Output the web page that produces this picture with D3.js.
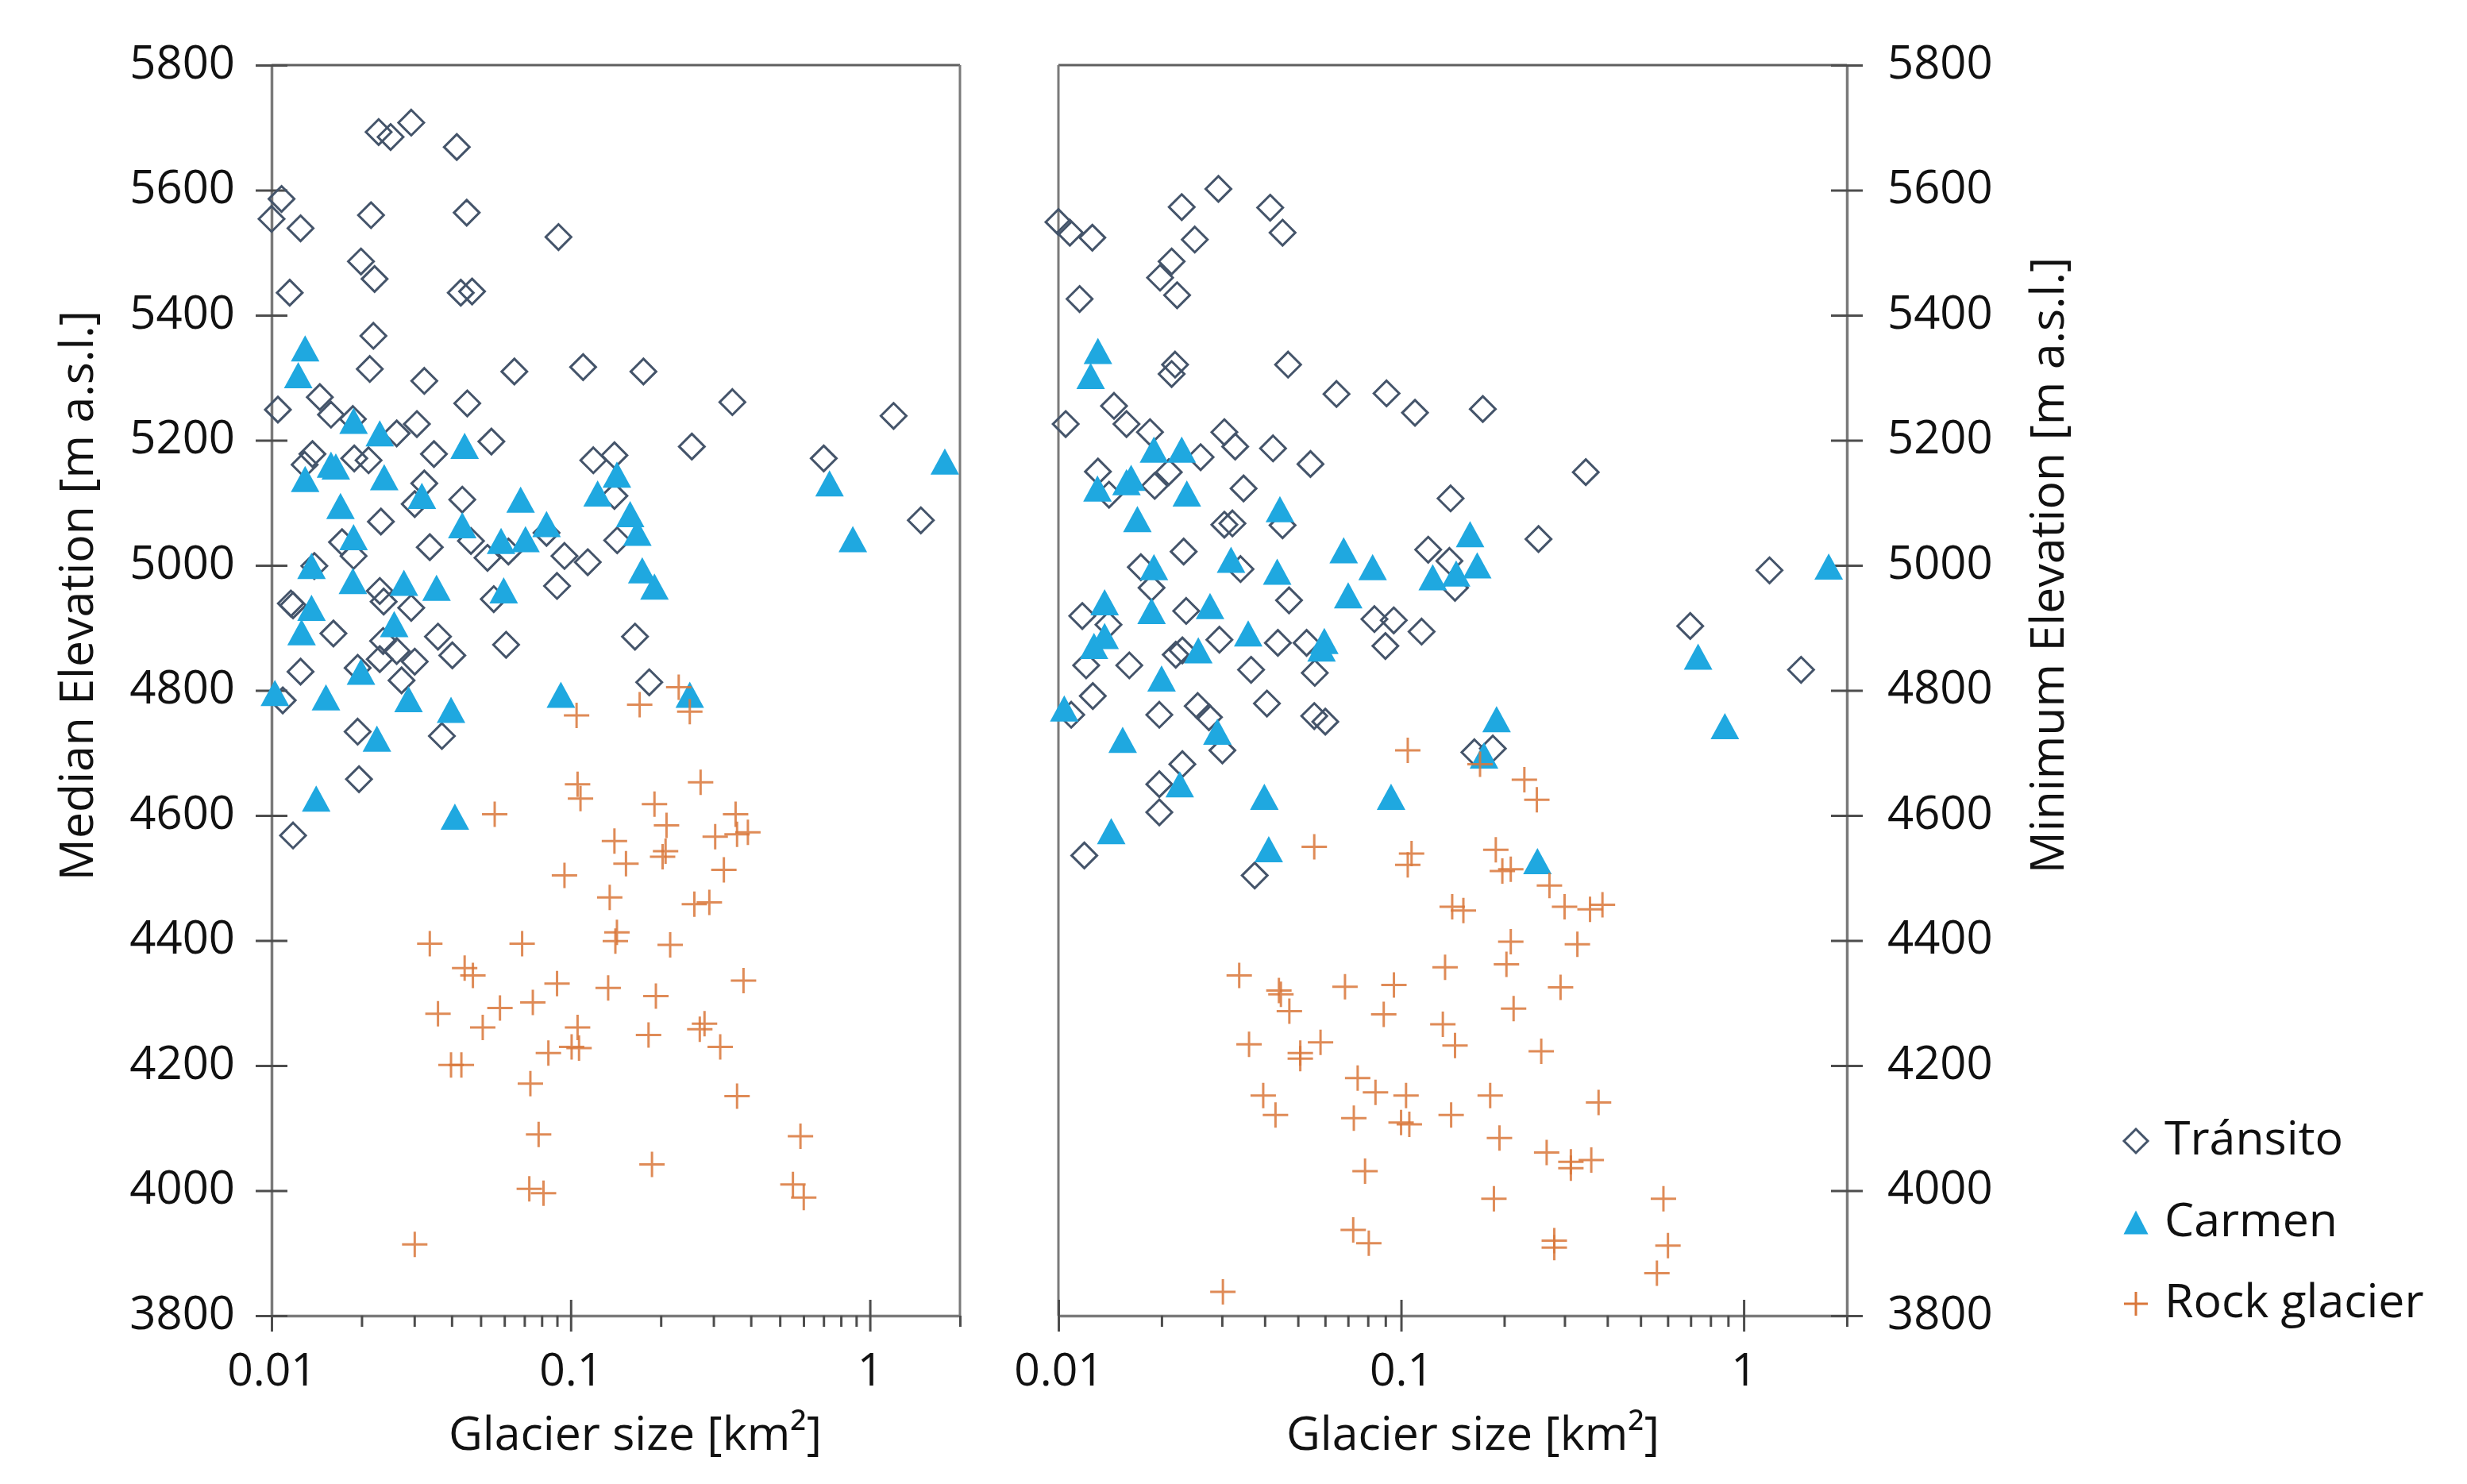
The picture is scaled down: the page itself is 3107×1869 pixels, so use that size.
<!DOCTYPE html>
<html>
<head>
<meta charset="utf-8">
<script src="https://cdn.jsdelivr.net/npm/d3@7"></script>
<style>
  body { margin: 0; background: #fff; }
  text { font-family: "Open Sans", "DejaVu Sans", sans-serif; fill: #111; }
</style>
</head>
<body>
<div id="chart"></div>
<script>
// tick values and labels
const yTicks = [3800, 4000, 4200, 4400, 4600, 4800, 5000, 5200, 5400, 5600, 5800];
const xTicks = [0.01, 0.1, 1];
const xTickLabels = ["0.01", "0.1", "1"];
const xMinorTicks = [0.02, 0.03, 0.04, 0.05, 0.06, 0.07, 0.08, 0.09, 0.2, 0.3, 0.4, 0.5, 0.6, 0.7, 0.8, 0.9, 2];
const seriesNames = ["Tránsito", "Carmen", "Rock glacier"];

// left panel: glacier size [km2] vs median elevation [m a.s.l.]
const transitoMedian = [
  [0.0228,5693],[0.025,5685],[0.0293,5708],[0.0416,5669],[0.0108,5586],[0.0100,5554],[0.0125,5539],[0.0215,5560],
  [0.0449,5564],[0.091,5525],[0.0199,5486],[0.0221,5458],[0.0115,5436],[0.0429,5436],[0.0468,5438],[0.0219,5367],
  [0.0213,5314],[0.0324,5295],[0.0648,5310],[0.110,5317],[0.175,5310],[0.0105,5249],[0.0145,5269],[0.0158,5241],
  [0.0451,5259],[0.347,5261],[1.20,5239],[0.0187,5234],[0.0262,5211],[0.0306,5226],[0.0543,5198],[0.254,5190],
  [0.0137,5178],[0.0129,5161],[0.0189,5171],[0.0211,5168],[0.0349,5178],[0.119,5168],[0.140,5176],[0.701,5171],
  [0.0324,5131],[0.0301,5098],[0.0434,5105],[0.140,5111],[1.48,5072],[0.0232,5070],[0.0172,5037],[0.0188,5015],
  [0.0338,5029],[0.0464,5039],[0.0527,5012],[0.0619,5022],[0.083,5052],[0.0953,5015],[0.114,5005],[0.143,5040],
  [0.090,4967],[0.0139,4999],[0.0553,4946],[0.0116,4939],[0.0118,4936],[0.0230,4959],[0.0237,4942],[0.0293,4932],
  [0.0161,4891],[0.036,4886],[0.0236,4879],[0.0608,4873],[0.164,4886],[0.0125,4830],[0.0194,4836],[0.0230,4850],
  [0.0262,4863],[0.0301,4846],[0.0402,4856],[0.0272,4816],[0.183,4813],[0.0109,4784],[0.0194,4734],[0.0371,4727],
  [0.0196,4658],[0.0118,4568]
];
const carmenMedian = [
  [0.01295,5347],[0.01228,5304],[0.0188,5231],[0.023,5211],[0.0442,5191],[0.0158,5161],[0.0164,5158],[0.01295,5138],
  [0.0238,5141],[0.017,5095],[0.0318,5111],[0.068,5105],[0.123,5115],[0.1427,5145],[1.78,5166],[0.733,5131],
  [0.877,5042],[0.158,5082],[0.167,5052],[0.0434,5064],[0.0585,5039],[0.0706,5042],[0.083,5066],[0.0188,5045],
  [0.0136,4999],[0.0187,4975],[0.0277,4972],[0.0356,4964],[0.0597,4960],[0.1734,4992],[0.1905,4966],[0.0136,4932],
  [0.0126,4893],[0.0257,4906],[0.0199,4830],[0.01026,4796],[0.0152,4789],[0.0287,4786],[0.0398,4769],[0.0927,4793],
  [0.250,4793],[0.0225,4723],[0.0141,4627],[0.041,4598]
];
const rockMedian = [
  [0.2296,4805],[0.1046,4760],[0.170,4777],[0.250,4766],[0.1054,4650],[0.1078,4627],[0.2717,4653],[0.0557,4602],
  [0.1905,4618],[0.3557,4602],[0.209,4584],[0.304,4566],[0.3597,4570],[0.391,4573],[0.140,4559],[0.2075,4543],
  [0.2028,4534],[0.153,4523],[0.325,4513],[0.0953,4504],[0.135,4469],[0.259,4458],[0.2906,4461],[0.0338,4395],
  [0.0688,4395],[0.1427,4413],[0.141,4399],[0.215,4393],[0.0442,4356],[0.0471,4344],[0.090,4331],[0.1334,4324],
  [0.378,4336],[0.0747,4301],[0.1926,4311],[0.058,4292],[0.036,4283],[0.0508,4261],[0.1054,4261],[0.28,4267],
  [0.27,4258],[0.182,4249],[0.1007,4230],[0.1066,4228],[0.316,4230],[0.0842,4220],[0.0398,4201],[0.0431,4201],
  [0.0733,4171],[0.3597,4151],[0.0781,4090],[0.586,4087],[0.1869,4042],[0.0727,4003],[0.0811,3996],[0.553,4010],
  [0.601,3989],[0.0301,3914]
];

// right panel: glacier size [km2] vs minimum elevation [m a.s.l.]
const transitoMin = [
  [0.0100,5549],[0.0108,5532],[0.01256,5524],[0.0229,5573],[0.0293,5602],[0.0415,5572],[0.0451,5532],[0.025,5521],
  [0.0214,5486],[0.0198,5460],[0.0222,5432],[0.01153,5426],[0.0219,5321],[0.0214,5306],[0.0468,5321],[0.0648,5274],
  [0.0907,5275],[0.1098,5244],[0.1732,5250],[0.0105,5226],[0.01453,5255],[0.0158,5226],[0.0185,5213],[0.0305,5213],
  [0.0328,5190],[0.0423,5187],[0.0544,5162],[0.346,5149],[0.01304,5150],[0.026,5173],[0.021,5149],[0.0191,5127],
  [0.01405,5113],[0.0347,5123],[0.1395,5107],[0.0305,5065],[0.0322,5067],[0.0451,5064],[0.2518,5042],[0.120,5025],
  [0.1384,5007],[0.0232,5022],[0.0174,4997],[0.034,4994],[1.189,4992],[0.0187,4964],[0.1437,4964],[0.01174,4919],
  [0.014,4905],[0.0236,4927],[0.0471,4944],[0.0836,4914],[0.0952,4912],[0.1148,4894],[0.698,4903],[0.0295,4881],
  [0.0437,4876],[0.053,4876],[0.090,4871],[0.023,4864],[0.022,4857],[0.01205,4840],[0.0161,4840],[0.0365,4833],
  [0.056,4828],[1.47,4833],[0.0126,4791],[0.0109,4761],[0.0197,4761],[0.0255,4775],[0.0275,4757],[0.0406,4779],
  [0.0558,4759],[0.0601,4750],[0.0301,4704],[0.023,4682],[0.0197,4650],[0.0197,4605],[0.0119,4536],[0.0374,4504],
  [0.1637,4701],[0.1853,4707]
];
const carmenMin = [
  [0.01304,5343],[0.01242,5303],[0.019,5185],[0.0229,5185],[0.0163,5140],[0.0158,5133],[0.013,5123],[0.0237,5115],
  [0.017,5074],[0.0443,5090],[0.019,4997],[0.0319,5009],[0.0435,4990],[0.068,5024],[0.0826,4997],[0.159,5050],
  [0.1668,5000],[0.1237,4981],[0.1448,4987],[1.77,4998],[0.0701,4952],[0.01364,4941],[0.0187,4927],[0.0277,4935],
  [0.01364,4887],[0.0127,4871],[0.0256,4864],[0.0358,4891],[0.0597,4879],[0.0586,4867],[0.736,4854],[0.02,4819],
  [0.0104,4771],[0.0154,4721],[0.0291,4734],[0.19,4754],[0.881,4743],[0.0226,4650],[0.0399,4630],[0.0935,4630],
  [0.1746,4696],[0.01426,4575],[0.0411,4546],[0.25,4527]
];
const rockMin = [
  [0.1046,4704],[0.170,4682],[0.229,4657],[0.249,4625],[0.0558,4550],[0.1073,4539],[0.1046,4521],[0.189,4545],
  [0.209,4514],[0.1975,4511],[0.271,4488],[0.141,4454],[0.152,4448],[0.300,4454],[0.356,4450],[0.387,4457],
  [0.209,4398],[0.327,4394],[0.203,4362],[0.1344,4357],[0.0337,4344],[0.0953,4329],[0.0686,4326],[0.292,4325],
  [0.044,4320],[0.0446,4314],[0.0472,4287],[0.089,4282],[0.213,4291],[0.1324,4266],[0.036,4234],[0.0582,4237],
  [0.0508,4220],[0.0508,4211],[0.1437,4232],[0.2565,4223],[0.0747,4180],[0.0842,4157],[0.0396,4152],[0.1034,4152],
  [0.182,4152],[0.377,4141],[0.043,4121],[0.0728,4116],[0.100,4109],[0.1057,4106],[0.140,4121],[0.1937,4084],
  [0.266,4061],[0.313,4046],[0.313,4036],[0.359,4049],[0.0785,4031],[0.1866,3987],[0.583,3987],[0.0725,3937],
  [0.0805,3916],[0.28,3920],[0.28,3909],[0.601,3912],[0.558,3868],[0.0302,3838]
];

const W = 3107, H = 1869;
const svg = d3.select("#chart").append("svg")
  .attr("width", W).attr("height", H)
  .style("background", "#fff");

const plotTop = 82, plotBottom = 1657;
const y = d3.scaleLinear().domain([3800, 5800]).range([plotBottom, plotTop]);

const axisColor = "#7a7a7a";
const tickColor = "#4d4d4d";
const colors = { transito: "#44546a", carmen: "#1fa8e0", rock: "#d9773a" };

const diamond = "M0,-16L16,0L0,16L-16,0Z";
const triangle = "M0,-16.5L18,16.5L-18,16.5Z";
const cross = "M-16,0H16M0,-16V16";

function drawPanel(p) {
  const x = d3.scaleLog().domain([0.01, 2]).range([p.x0, p.x1]);
  const g = svg.append("g");

  // frame lines
  g.append("line").attr("x1", p.x0).attr("x2", p.x1).attr("y1", plotTop).attr("y2", plotTop)
    .attr("stroke", "#5f5f5f").attr("stroke-width", 3);
  const fx = p.side === "left" ? p.x1 : p.x0;
  g.append("line").attr("x1", fx).attr("x2", fx).attr("y1", plotTop).attr("y2", plotBottom)
    .attr("stroke", axisColor).attr("stroke-width", 3);

  // x axis, major ticks cross the line
  const xa = g.append("g").attr("transform", `translate(0,${plotBottom})`)
    .call(d3.axisBottom(x).tickValues(xTicks).tickFormat((d, i) => xTickLabels[i])
      .tickSize(20).tickSizeOuter(0));
  xa.select(".domain").attr("stroke", axisColor).attr("stroke-width", 3.5);
  xa.selectAll(".tick line").attr("y1", -20).attr("stroke", tickColor).attr("stroke-width", 3);
  xa.selectAll(".tick text").attr("y", 88).attr("dy", null)
    .style("font-size", "57px").attr("fill", "#111");

  // minor ticks
  const xm = g.append("g").attr("transform", `translate(0,${plotBottom})`)
    .call(d3.axisBottom(x).tickValues(xMinorTicks).tickFormat("").tickSize(14).tickSizeOuter(0));
  xm.select(".domain").remove();
  xm.selectAll(".tick line").attr("stroke", tickColor).attr("stroke-width", 3);

  // y axis
  const yAxis = p.side === "left" ? d3.axisLeft(y) : d3.axisRight(y);
  const ya = g.append("g").attr("transform", `translate(${p.side === "left" ? p.x0 : p.x1},0)`)
    .call(yAxis.tickValues(yTicks).tickFormat(d3.format("d")).tickSize(20).tickSizeOuter(0));
  ya.select(".domain").attr("stroke", axisColor).attr("stroke-width", 3.5);
  ya.selectAll(".tick line").attr("x1", p.side === "left" ? 20 : -20)
    .attr("stroke", tickColor).attr("stroke-width", 3);
  ya.selectAll(".tick text").attr("x", p.side === "left" ? -46 : 51)
    .attr("y", 16).attr("dy", null)
    .style("font-size", "58px").attr("fill", "#111");
  g.selectAll(".domain").attr("fill", "none");

  // series
  g.append("g").selectAll("path").data(p.transito).join("path")
    .attr("d", diamond)
    .attr("transform", d => `translate(${x(d[0])},${y(d[1])})`)
    .attr("fill", "none").attr("stroke", colors.transito).attr("stroke-width", 3);
  g.append("g").selectAll("path").data(p.carmen).join("path")
    .attr("d", triangle)
    .attr("transform", d => `translate(${x(d[0])},${y(d[1])})`)
    .attr("fill", colors.carmen);
  g.append("g").selectAll("path").data(p.rock).join("path")
    .attr("d", cross)
    .attr("transform", d => `translate(${x(d[0])},${y(d[1])})`)
    .attr("fill", "none").attr("stroke", colors.rock).attr("stroke-width", 3)
    .attr("stroke-opacity", 0.85);

  // x title
  g.append("text").attr("x", p.xTitleX).attr("y", 1826)
    .attr("text-anchor", "middle").style("font-size", "59px")
    .text("Glacier size [km²]");

  // y title
  g.append("text")
    .attr("transform", `translate(${p.yTitleX},${p.yTitleY}) rotate(-90)`)
    .attr("text-anchor", "middle").style("font-size", "59px")
    .text(p.yTitle);
}

drawPanel({
  x0: 342, x1: 1209, side: "left",
  transito: transitoMedian, carmen: carmenMedian, rock: rockMedian,
  xTitleX: 800, yTitleX: 117, yTitleY: 750, yTitle: "Median Elevation [m a.s.l.]"
});
drawPanel({
  x0: 1333, x1: 2326, side: "right",
  transito: transitoMin, carmen: carmenMin, rock: rockMin,
  xTitleX: 1855, yTitleX: 2599, yTitleY: 712, yTitle: "Minimum Elevation [m a.s.l.]"
});

// legend
const legend = svg.append("g").attr("transform", "translate(2690,1437)");
const legendShapes = [
  { d: "M0,-15L15,0L0,15L-15,0Z", fill: "none", stroke: colors.transito },
  { d: "M0,-15L15.5,15L-15.5,15Z", fill: colors.carmen, stroke: "none" },
  { d: "M-15,0H15M0,-15V15", fill: "none", stroke: colors.rock }
];
const items = legend.selectAll("g").data(seriesNames).join("g")
  .attr("transform", (d, i) => `translate(0,${i * 102.5})`);
items.append("path")
  .attr("d", (d, i) => legendShapes[i].d)
  .attr("fill", (d, i) => legendShapes[i].fill)
  .attr("stroke", (d, i) => legendShapes[i].stroke)
  .attr("stroke-width", 3);
items.append("text").attr("x", 36).attr("y", 17)
  .style("font-size", "59px").text(d => d);
</script>
</body>
</html>
